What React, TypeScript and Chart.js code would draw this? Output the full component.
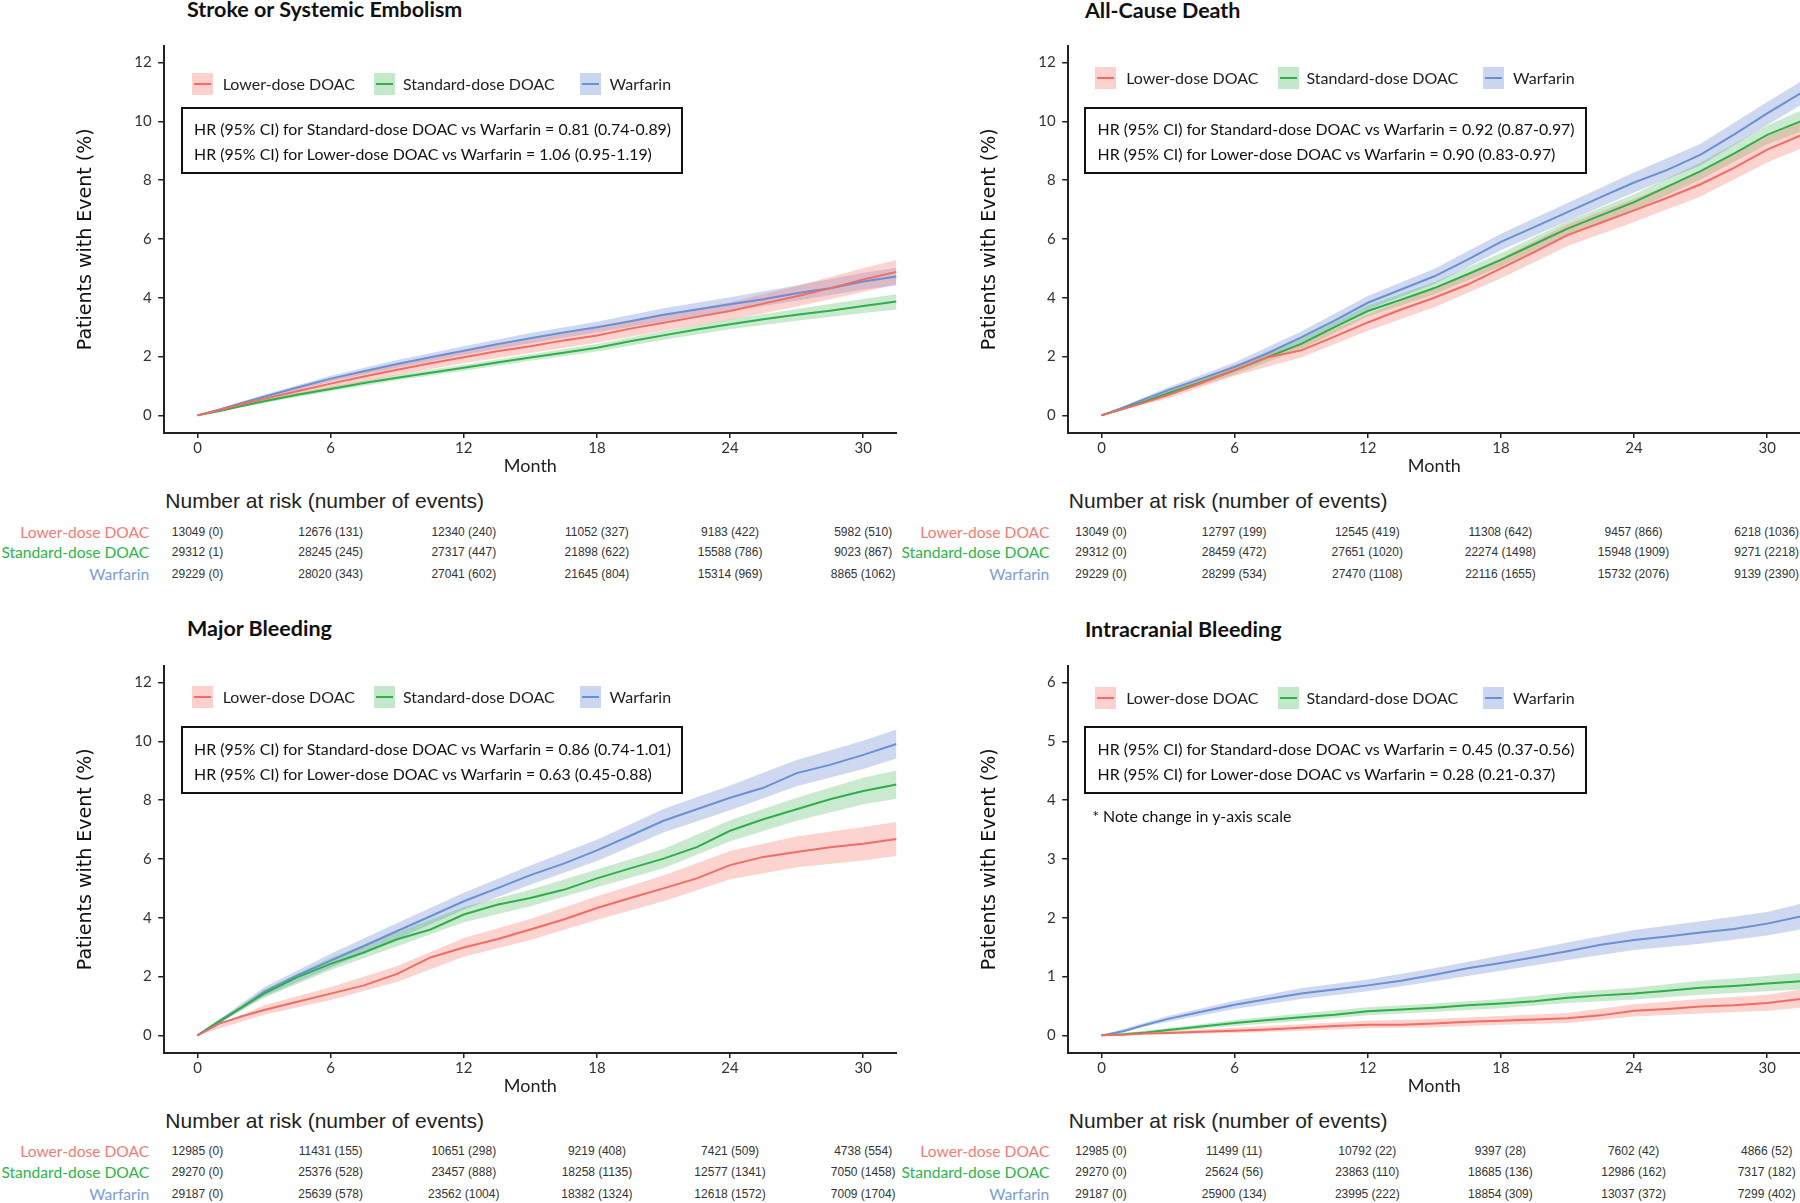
import React, { useEffect, useRef, useState } from 'react';
import { Chart, registerables } from 'chart.js';

Chart.register(...registerables);

// ---------- shared axes / categories ----------
const MONTHS = [0, 1, 2, 3, 4.5, 6, 7.5, 9, 10.5, 12, 13.5, 15, 16.5, 18, 19.5, 21, 22.5, 24, 25.5, 27, 28.5, 30, 31.5];
const BAND_MONTHS = [0, 3, 6, 9, 12, 15, 18, 21, 24, 27, 30, 31.5];
const X_TICKS = [0, 6, 12, 18, 24, 30];
const Y_TICKS_12 = [0, 2, 4, 6, 8, 10, 12];
const Y_TICKS_6 = [0, 1, 2, 3, 4, 5, 6];
const SERIES_NAMES = ['Lower-dose DOAC', 'Standard-dose DOAC', 'Warfarin'];

// ---------- Stroke or Systemic Embolism ----------
const SSE_LOWER = [0, 0.18, 0.38, 0.56, 0.82, 1.08, 1.32, 1.55, 1.77, 1.98, 2.18, 2.35, 2.55, 2.72, 2.95, 3.15, 3.35, 3.55, 3.8, 4.05, 4.32, 4.62, 4.88];
const SSE_STANDARD = [0, 0.15, 0.32, 0.48, 0.7, 0.9, 1.1, 1.28, 1.45, 1.62, 1.8, 1.97, 2.13, 2.3, 2.52, 2.72, 2.92, 3.1, 3.27, 3.42, 3.56, 3.72, 3.87];
const SSE_WARFARIN = [0, 0.2, 0.42, 0.63, 0.95, 1.25, 1.5, 1.75, 1.98, 2.2, 2.42, 2.62, 2.82, 3.0, 3.2, 3.42, 3.6, 3.78, 3.95, 4.15, 4.32, 4.55, 4.72];
const SSE_LOWER_LO = [0, 0.46, 0.93, 1.37, 1.77, 2.12, 2.47, 2.88, 3.25, 3.7, 4.2, 4.46];
const SSE_LOWER_HI = [0, 0.66, 1.23, 1.73, 2.19, 2.58, 2.97, 3.42, 3.85, 4.4, 5.0, 5.28];
const SSE_STANDARD_LO = [0, 0.42, 0.82, 1.19, 1.52, 1.86, 2.17, 2.57, 2.93, 3.22, 3.48, 3.6];
const SSE_STANDARD_HI = [0, 0.54, 0.98, 1.38, 1.72, 2.08, 2.43, 2.87, 3.27, 3.62, 3.96, 4.12];
const SSE_WARFARIN_LO = [0, 0.56, 1.15, 1.62, 2.05, 2.45, 2.82, 3.2, 3.55, 3.9, 4.28, 4.42];
const SSE_WARFARIN_HI = [0, 0.7, 1.35, 1.88, 2.35, 2.8, 3.18, 3.64, 4.02, 4.42, 4.85, 5.02];
const SSE_HR = [
  'HR (95% CI) for Standard-dose DOAC vs Warfarin = 0.81 (0.74-0.89)',
  'HR (95% CI) for Lower-dose DOAC vs Warfarin = 1.06 (0.95-1.19)',
];
const SSE_RISK_LOWER = ['13049 (0)', '12676 (131)', '12340 (240)', '11052 (327)', '9183 (422)', '5982 (510)'];
const SSE_RISK_STANDARD = ['29312 (1)', '28245 (245)', '27317 (447)', '21898 (622)', '15588 (786)', '9023 (867)'];
const SSE_RISK_WARFARIN = ['29229 (0)', '28020 (343)', '27041 (602)', '21645 (804)', '15314 (969)', '8865 (1062)'];

// ---------- All-Cause Death ----------
const ACD_LOWER = [0, 0.22, 0.45, 0.69, 1.1, 1.53, 1.98, 2.21, 2.68, 3.16, 3.6, 4.0, 4.45, 5.0, 5.55, 6.13, 6.55, 6.97, 7.4, 7.86, 8.42, 9.04, 9.52];
const ACD_STANDARD = [0, 0.23, 0.48, 0.75, 1.13, 1.53, 1.98, 2.43, 3.0, 3.55, 3.93, 4.33, 4.8, 5.29, 5.82, 6.35, 6.8, 7.25, 7.78, 8.31, 8.9, 9.54, 10.0];
const ACD_WARFARIN = [0, 0.27, 0.57, 0.86, 1.25, 1.65, 2.12, 2.65, 3.22, 3.83, 4.28, 4.73, 5.3, 5.9, 6.4, 6.91, 7.42, 7.92, 8.35, 8.87, 9.55, 10.27, 10.95];
const ACD_LOWER_LO = [0, 0.57, 1.35, 1.97, 2.88, 3.68, 4.66, 5.76, 6.58, 7.44, 8.6, 9.07];
const ACD_LOWER_HI = [0, 0.81, 1.71, 2.45, 3.44, 4.32, 5.34, 6.5, 7.36, 8.28, 9.48, 9.97];
const ACD_STANDARD_LO = [0, 0.66, 1.39, 2.25, 3.36, 4.12, 5.06, 6.1, 6.98, 8.02, 9.22, 9.65];
const ACD_STANDARD_HI = [0, 0.84, 1.67, 2.61, 3.74, 4.54, 5.52, 6.6, 7.52, 8.6, 9.86, 10.36];
const ACD_WARFARIN_LO = [0, 0.76, 1.5, 2.45, 3.6, 4.47, 5.62, 6.6, 7.58, 8.5, 9.88, 10.55];
const ACD_WARFARIN_HI = [0, 0.96, 1.8, 2.85, 4.06, 4.99, 6.18, 7.22, 8.26, 9.24, 10.66, 11.35];
const ACD_HR = [
  'HR (95% CI) for Standard-dose DOAC vs Warfarin = 0.92 (0.87-0.97)',
  'HR (95% CI) for Lower-dose DOAC vs Warfarin = 0.90 (0.83-0.97)',
];
const ACD_RISK_LOWER = ['13049 (0)', '12797 (199)', '12545 (419)', '11308 (642)', '9457 (866)', '6218 (1036)'];
const ACD_RISK_STANDARD = ['29312 (0)', '28459 (472)', '27651 (1020)', '22274 (1498)', '15948 (1909)', '9271 (2218)'];
const ACD_RISK_WARFARIN = ['29229 (0)', '28299 (534)', '27470 (1108)', '22116 (1655)', '15732 (2076)', '9139 (2390)'];

// ---------- Major Bleeding ----------
const MB_LOWER = [0, 0.4, 0.65, 0.86, 1.14, 1.42, 1.7, 2.09, 2.65, 2.99, 3.27, 3.6, 3.94, 4.33, 4.67, 5.0, 5.34, 5.79, 6.07, 6.24, 6.4, 6.52, 6.68];
const MB_STANDARD = [0, 0.5, 0.95, 1.42, 1.98, 2.43, 2.82, 3.27, 3.6, 4.11, 4.44, 4.67, 4.95, 5.34, 5.68, 6.01, 6.4, 6.96, 7.35, 7.69, 8.03, 8.31, 8.53];
const MB_WARFARIN = [0, 0.45, 0.95, 1.48, 2.04, 2.54, 3.04, 3.55, 4.05, 4.56, 5.0, 5.45, 5.84, 6.29, 6.79, 7.3, 7.69, 8.08, 8.42, 8.92, 9.2, 9.54, 9.91];
const MB_LOWER_LO = [0, 0.7, 1.2, 1.82, 2.67, 3.24, 3.93, 4.56, 5.31, 5.72, 5.95, 6.1];
const MB_LOWER_HI = [0, 1.02, 1.64, 2.36, 3.31, 3.96, 4.73, 5.44, 6.27, 6.76, 7.09, 7.26];
const MB_STANDARD_LO = [0, 1.28, 2.22, 3.03, 3.85, 4.39, 5.04, 5.68, 6.6, 7.3, 7.86, 8.05];
const MB_STANDARD_HI = [0, 1.56, 2.64, 3.51, 4.37, 4.95, 5.64, 6.34, 7.32, 8.08, 8.76, 9.01];
const MB_WARFARIN_LO = [0, 1.32, 2.3, 3.28, 4.27, 5.12, 5.93, 6.9, 7.66, 8.47, 9.06, 9.42];
const MB_WARFARIN_HI = [0, 1.64, 2.78, 3.82, 4.85, 5.78, 6.65, 7.7, 8.5, 9.37, 10.02, 10.4];
const MB_HR = [
  'HR (95% CI) for Standard-dose DOAC vs Warfarin = 0.86 (0.74-1.01)',
  'HR (95% CI) for Lower-dose DOAC vs Warfarin = 0.63 (0.45-0.88)',
];
const MB_RISK_LOWER = ['12985 (0)', '11431 (155)', '10651 (298)', '9219 (408)', '7421 (509)', '4738 (554)'];
const MB_RISK_STANDARD = ['29270 (0)', '25376 (528)', '23457 (888)', '18258 (1135)', '12577 (1341)', '7050 (1458)'];
const MB_RISK_WARFARIN = ['29187 (0)', '25639 (578)', '23562 (1004)', '18382 (1324)', '12618 (1572)', '7009 (1704)'];

// ---------- Intracranial Bleeding ----------
const ICH_LOWER = [0, 0.01, 0.03, 0.04, 0.06, 0.08, 0.1, 0.13, 0.16, 0.18, 0.18, 0.2, 0.23, 0.25, 0.27, 0.29, 0.34, 0.42, 0.45, 0.49, 0.51, 0.55, 0.62];
const ICH_STANDARD = [0, 0.02, 0.05, 0.09, 0.15, 0.21, 0.26, 0.31, 0.35, 0.41, 0.44, 0.47, 0.51, 0.54, 0.58, 0.64, 0.68, 0.71, 0.76, 0.81, 0.84, 0.88, 0.92];
const ICH_WARFARIN = [0, 0.07, 0.18, 0.28, 0.4, 0.52, 0.62, 0.71, 0.78, 0.85, 0.93, 1.03, 1.14, 1.23, 1.33, 1.43, 1.54, 1.62, 1.68, 1.75, 1.81, 1.9, 2.02];
const ICH_LOWER_LO = [0, 0.02, 0.04, 0.08, 0.12, 0.14, 0.18, 0.21, 0.32, 0.37, 0.42, 0.47];
const ICH_LOWER_HI = [0, 0.07, 0.13, 0.19, 0.25, 0.28, 0.33, 0.38, 0.53, 0.62, 0.69, 0.78];
const ICH_STANDARD_LO = [0, 0.06, 0.16, 0.25, 0.34, 0.4, 0.46, 0.55, 0.61, 0.69, 0.75, 0.78];
const ICH_STANDARD_HI = [0, 0.12, 0.26, 0.37, 0.48, 0.54, 0.62, 0.73, 0.81, 0.93, 1.01, 1.06];
const ICH_WARFARIN_LO = [0, 0.23, 0.45, 0.62, 0.75, 0.92, 1.1, 1.28, 1.45, 1.56, 1.7, 1.8];
const ICH_WARFARIN_HI = [0, 0.33, 0.59, 0.8, 0.95, 1.14, 1.36, 1.58, 1.79, 1.94, 2.1, 2.24];
const ICH_HR = [
  'HR (95% CI) for Standard-dose DOAC vs Warfarin = 0.45 (0.37-0.56)',
  'HR (95% CI) for Lower-dose DOAC vs Warfarin = 0.28 (0.21-0.37)',
];
const ICH_NOTE = '* Note change in y-axis scale';
const ICH_RISK_LOWER = ['12985 (0)', '11499 (11)', '10792 (22)', '9397 (28)', '7602 (42)', '4866 (52)'];
const ICH_RISK_STANDARD = ['29270 (0)', '25624 (56)', '23863 (110)', '18685 (136)', '12986 (162)', '7317 (182)'];
const ICH_RISK_WARFARIN = ['29187 (0)', '25900 (134)', '23995 (222)', '18854 (309)', '13037 (372)', '7299 (402)'];

// ---------- styles ----------
const LINE_COLORS = ['#F26C64', '#2FAE4A', '#6B8FD3'];
const BAND_COLORS = ['rgba(246,120,108,0.33)', 'rgba(60,180,80,0.28)', 'rgba(105,140,212,0.33)'];
const SWATCH_COLORS = ['rgba(246,120,108,0.35)', 'rgba(60,180,80,0.3)', 'rgba(105,140,212,0.35)'];
const LABEL_COLORS = ['#F47B73', '#2DB548', '#7A9CDA'];

const NARROW = 'Lato, "Open Sans", sans-serif';
const ARIAL = '"Liberation Sans", Arial, sans-serif';

type Series = { values: number[]; lo: number[]; hi: number[] };
type PanelProps = {
  left: number;
  top: number;
  title: string;
  titleX: number;
  titleY: number;
  legendY: number;
  yMin: number;
  yMax: number;
  yTicks: number[];
  series: Series[];
  hr: string[];
  note?: string;
  risk: string[][];
  labelRight: number;
};

const CANVAS_W = 897;
const CANVAS_H = 450;
const CANVAS_TOP = 30;

function Panel(p: PanelProps) {
  const ref = useRef<HTMLCanvasElement | null>(null);
  const [tickPx, setTickPx] = useState<number[]>([]);

  useEffect(() => {
    if (!ref.current) return;
    const datasets: any[] = [];
    p.series.forEach((s, i) => {
      datasets.push({
        data: BAND_MONTHS.map((m, j) => ({ x: m, y: s.lo[j] })),
        borderWidth: 0,
        borderColor: 'rgba(0,0,0,0)',
        pointRadius: 0,
        fill: false,
        order: 2,
      });
      datasets.push({
        data: BAND_MONTHS.map((m, j) => ({ x: m, y: s.hi[j] })),
        borderWidth: 0,
        borderColor: 'rgba(0,0,0,0)',
        backgroundColor: BAND_COLORS[i],
        pointRadius: 0,
        fill: '-1',
        order: 2,
      });
    });
    p.series.forEach((s, i) => {
      datasets.push({
        data: MONTHS.map((m, j) => ({ x: m, y: s.values[j] })),
        borderColor: LINE_COLORS[i],
        borderWidth: 2,
        pointRadius: 0,
        fill: false,
        order: 0,
      });
    });

    const chart = new Chart(ref.current, {
      type: 'line',
      data: { datasets },
      options: {
        animation: false,
        responsive: false,
        maintainAspectRatio: false,
        events: [],
        layout: { padding: { top: 10, right: 0.5, left: 0, bottom: 0 } },
        plugins: {
          legend: { display: false },
          tooltip: { enabled: false },
          title: { display: false },
        },
        elements: { point: { radius: 0 }, line: { tension: 0 } },
        scales: {
          x: {
            type: 'linear',
            min: -1.5,
            max: 31.5,
            afterBuildTicks: (s: any) => {
              s.ticks = X_TICKS.map((v) => ({ value: v }));
            },
            afterFit: (s: any) => {
              s.height = 47;
            },
            grid: { drawOnChartArea: false, drawTicks: true, tickLength: 5, color: '#222', lineWidth: 1.5 },
            border: { display: true, color: '#222', width: 2 },
            ticks: { font: { family: NARROW, size: 15 }, color: '#333', padding: 1, maxRotation: 0, autoSkip: false },
            title: {
              display: true,
              text: 'Month',
              font: { family: NARROW, size: 18 },
              color: '#222',
              padding: { top: 0, bottom: 3 },
            },
          },
          y: {
            type: 'linear',
            min: p.yMin,
            max: p.yMax,
            afterBuildTicks: (s: any) => {
              s.ticks = p.yTicks.map((v) => ({ value: v }));
            },
            afterFit: (s: any) => {
              s.width = 164.2;
            },
            grid: { drawOnChartArea: false, drawTicks: true, tickLength: 6, color: '#222', lineWidth: 1.5 },
            border: { display: true, color: '#222', width: 2 },
            ticks: { font: { family: NARROW, size: 15 }, color: '#333', padding: 6.5 },
            title: {
              display: true,
              text: 'Patients with Event (%)',
              font: { family: '"DejaVu Sans", Verdana, sans-serif', size: 19 },
              color: '#111',
              padding: { top: 74.6, bottom: 0 },
            },
          },
        },
      } as any,
    });
    setTickPx(X_TICKS.map((v) => chart.scales.x.getPixelForValue(v)));
    return () => chart.destroy();
  }, []);

  const legendX = [[191.7, 222.7], [374, 403], [579.7, 609.6]];
  const rowY = [531.7, 552.4, 574.2];

  return (
    <div style={{ position: 'absolute', left: p.left, top: p.top, width: CANVAS_W, height: 600 }}>
      <div
        style={{
          position: 'absolute',
          left: p.titleX,
          top: p.titleY - 13,
          height: 26,
          lineHeight: '26px',
          fontFamily: NARROW,
          fontWeight: 700,
          fontSize: 21.5,
          color: '#111',
          whiteSpace: 'nowrap',
        }}
      >
        {p.title}
      </div>
      <canvas
        ref={ref}
        width={CANVAS_W}
        height={CANVAS_H}
        style={{ position: 'absolute', left: 0, top: CANVAS_TOP, width: CANVAS_W, height: CANVAS_H }}
      />
      {SERIES_NAMES.map((name, i) => (
        <React.Fragment key={name}>
          <div
            style={{
              position: 'absolute',
              left: legendX[i][0],
              top: p.legendY - 11,
              width: 21,
              height: 22,
              background: SWATCH_COLORS[i],
            }}
          >
            <div style={{ position: 'absolute', left: 2, top: 10, width: 17, height: 2, background: LINE_COLORS[i] }} />
          </div>
          <div
            style={{
              position: 'absolute',
              left: legendX[i][1],
              top: p.legendY - 11,
              height: 22,
              lineHeight: '22px',
              fontFamily: NARROW,
              fontSize: 16,
              color: '#222',
              whiteSpace: 'nowrap',
            }}
          >
            {name}
          </div>
        </React.Fragment>
      ))}
      <div
        style={{
          position: 'absolute',
          left: 180.5,
          top: 106.8,
          width: 502.5,
          height: 67.5,
          border: '2px solid #111',
          boxSizing: 'border-box',
        }}
      />
      {p.hr.map((t, i) => (
        <div
          key={t}
          style={{
            position: 'absolute',
            left: 194,
            top: (i === 0 ? 129.3 : 154) - 10,
            height: 20,
            lineHeight: '20px',
            fontFamily: NARROW,
            fontSize: 15.9,
            color: '#111',
            whiteSpace: 'nowrap',
          }}
        >
          {t}
        </div>
      ))}
      {p.note ? (
        <div
          style={{
            position: 'absolute',
            left: 188.8,
            top: 196.5 - 10,
            height: 20,
            lineHeight: '20px',
            fontFamily: NARROW,
            fontSize: 15.9,
            color: '#111',
            whiteSpace: 'nowrap',
          }}
        >
          {p.note}
        </div>
      ) : null}
      <div
        style={{
          position: 'absolute',
          left: 165.3,
          top: 501 - 13,
          height: 26,
          lineHeight: '26px',
          fontFamily: ARIAL,
          fontSize: 21,
          color: '#222',
          whiteSpace: 'nowrap',
        }}
      >
        Number at risk (number of events)
      </div>
      {SERIES_NAMES.map((name, i) => (
        <React.Fragment key={'row' + name}>
          <div
            style={{
              position: 'absolute',
              right: CANVAS_W - p.labelRight,
              top: rowY[i] - 10,
              height: 20,
              lineHeight: '20px',
              fontFamily: NARROW,
              fontSize: 15.6,
              color: LABEL_COLORS[i],
              whiteSpace: 'nowrap',
              textAlign: 'right',
            }}
          >
            {name}
          </div>
          {tickPx.map((x, j) => (
            <div
              key={j}
              style={{
                position: 'absolute',
                left: x - 50,
                width: 100,
                top: rowY[i] - 8,
                height: 16,
                lineHeight: '16px',
                fontFamily: ARIAL,
                fontSize: 12,
                color: '#333',
                textAlign: 'center',
                whiteSpace: 'nowrap',
              }}
            >
              {p.risk[i][j]}
            </div>
          ))}
        </React.Fragment>
      ))}
    </div>
  );
}

export default function App() {
  const dx = 903.5;
  const dy = 619.5;
  return (
    <div
      style={{
        position: 'absolute',
        left: 0,
        top: 0,
        width: 1800,
        height: 1203,
        overflow: 'hidden',
        background: '#fff',
      }}
    >
      <Panel
        left={0}
        top={0}
        title="Stroke or Systemic Embolism"
        titleX={187}
        titleY={9.3}
        legendY={83.8}
        yMin={-0.6}
        yMax={12.58}
        yTicks={Y_TICKS_12}
        series={[
          { values: SSE_LOWER, lo: SSE_LOWER_LO, hi: SSE_LOWER_HI },
          { values: SSE_STANDARD, lo: SSE_STANDARD_LO, hi: SSE_STANDARD_HI },
          { values: SSE_WARFARIN, lo: SSE_WARFARIN_LO, hi: SSE_WARFARIN_HI },
        ]}
        hr={SSE_HR}
        risk={[SSE_RISK_LOWER, SSE_RISK_STANDARD, SSE_RISK_WARFARIN]}
        labelRight={149.2}
      />
      <Panel
        left={dx}
        top={0}
        title="All-Cause Death"
        titleX={181.4}
        titleY={10}
        legendY={78.2}
        yMin={-0.6}
        yMax={12.58}
        yTicks={Y_TICKS_12}
        series={[
          { values: ACD_LOWER, lo: ACD_LOWER_LO, hi: ACD_LOWER_HI },
          { values: ACD_STANDARD, lo: ACD_STANDARD_LO, hi: ACD_STANDARD_HI },
          { values: ACD_WARFARIN, lo: ACD_WARFARIN_LO, hi: ACD_WARFARIN_HI },
        ]}
        hr={ACD_HR}
        risk={[ACD_RISK_LOWER, ACD_RISK_STANDARD, ACD_RISK_WARFARIN]}
        labelRight={145.8}
      />
      <Panel
        left={0}
        top={dy}
        title="Major Bleeding"
        titleX={187}
        titleY={8.8}
        legendY={77.5}
        yMin={-0.6}
        yMax={12.58}
        yTicks={Y_TICKS_12}
        series={[
          { values: MB_LOWER, lo: MB_LOWER_LO, hi: MB_LOWER_HI },
          { values: MB_STANDARD, lo: MB_STANDARD_LO, hi: MB_STANDARD_HI },
          { values: MB_WARFARIN, lo: MB_WARFARIN_LO, hi: MB_WARFARIN_HI },
        ]}
        hr={MB_HR}
        risk={[MB_RISK_LOWER, MB_RISK_STANDARD, MB_RISK_WARFARIN]}
        labelRight={149.2}
      />
      <Panel
        left={dx}
        top={dy}
        title="Intracranial Bleeding"
        titleX={181.4}
        titleY={9.8}
        legendY={78.5}
        yMin={-0.3}
        yMax={6.29}
        yTicks={Y_TICKS_6}
        series={[
          { values: ICH_LOWER, lo: ICH_LOWER_LO, hi: ICH_LOWER_HI },
          { values: ICH_STANDARD, lo: ICH_STANDARD_LO, hi: ICH_STANDARD_HI },
          { values: ICH_WARFARIN, lo: ICH_WARFARIN_LO, hi: ICH_WARFARIN_HI },
        ]}
        hr={ICH_HR}
        note={ICH_NOTE}
        risk={[ICH_RISK_LOWER, ICH_RISK_STANDARD, ICH_RISK_WARFARIN]}
        labelRight={145.8}
      />
    </div>
  );
}
